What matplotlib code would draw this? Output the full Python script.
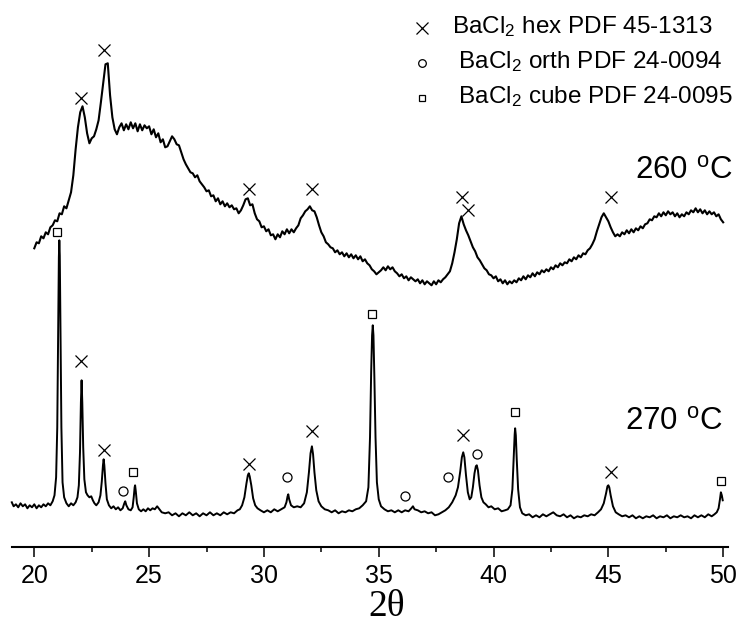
import numpy as np
import matplotlib
matplotlib.use("Agg")
import matplotlib.pyplot as plt
from matplotlib.ticker import MultipleLocator

plt.rcParams['font.family'] = ['Liberation Sans', 'DejaVu Sans']
plt.rcParams['mathtext.fontset'] = 'custom'
plt.rcParams['mathtext.rm'] = 'Liberation Sans'
plt.rcParams['mathtext.it'] = 'Liberation Sans:italic'
plt.rcParams['mathtext.default'] = 'regular'

# ---------------- data ----------------
# 260 C pattern: scan grid 20.0 .. 50.0, step 0.1 (intensity, a.u., offset upward)
scan_start_260, scan_step_260 = 20.0, 0.1
intensity_260 = [
    299, 305, 304, 311, 309, 315, 313, 320, 322, 327,   # 20.0-20.9
    326, 334, 333, 341, 339, 347, 355, 372, 398, 420,   # 21.0-21.9
    435, 441, 430, 414, 404, 409, 411, 418, 427, 445,   # 22.0-22.9
    464, 483, 484, 452, 430, 418, 413, 420, 424, 417,   # 23.0-23.9
    423, 418, 425, 419, 424, 416, 423, 417, 422, 419,   # 24.0-24.9
    421, 413, 418, 410, 414, 405, 408, 400, 401, 406,   # 25.0-25.9
    411, 408, 403, 402, 395, 388, 383, 379, 375, 374,   # 26.0-26.9
    370, 372, 366, 363, 360, 356, 357, 351, 352, 346,   # 27.0-27.9
    349, 343, 346, 341, 344, 340, 342, 338, 339, 334,   # 28.0-28.9
    337, 342, 348, 349, 342, 343, 334, 328, 326, 320,   # 29.0-29.9
    321, 316, 318, 312, 313, 308, 313, 310, 316, 313,   # 30.0-30.9
    318, 314, 318, 315, 319, 322, 329, 332, 336, 338,   # 31.0-31.9
    341, 337, 336, 330, 322, 315, 311, 305, 303, 300,   # 32.0-32.9
    299, 295, 297, 293, 295, 291, 294, 290, 293, 289,   # 33.0-33.9
    292, 288, 291, 286, 288, 284, 282, 278, 276, 273,   # 34.0-34.9
    275, 277, 280, 277, 281, 278, 280, 276, 274, 271,   # 35.0-35.9
    273, 269, 271, 267, 270, 268, 266, 268, 264, 267,   # 36.0-36.9
    263, 266, 264, 262, 266, 263, 267, 265, 268, 270,   # 37.0-37.9
    273, 276, 284, 295, 308, 324, 331, 323, 317, 312,   # 38.0-38.9
    306, 300, 296, 290, 287, 283, 279, 277, 273, 272,   # 39.0-39.9
    269, 271, 266, 268, 264, 267, 263, 266, 264, 267,   # 40.0-40.9
    265, 269, 267, 271, 268, 272, 270, 274, 271, 275,   # 41.0-41.9
    273, 277, 275, 278, 276, 280, 278, 282, 280, 284,   # 42.0-42.9
    282, 285, 284, 288, 286, 290, 288, 292, 290, 294,   # 43.0-43.9
    293, 297, 299, 303, 308, 316, 323, 330, 334, 330,   # 44.0-44.9
    326, 320, 315, 311, 313, 311, 315, 313, 317, 314,   # 45.0-45.9
    318, 315, 319, 317, 321, 319, 323, 324, 328, 327,   # 46.0-46.9
    331, 330, 334, 331, 335, 332, 336, 333, 335, 331,   # 47.0-47.9
    334, 330, 333, 331, 335, 333, 337, 335, 339, 335,   # 48.0-48.9
    338, 334, 337, 333, 336, 333, 335, 331, 333, 328,   # 49.0-49.9
    325,                                                # 50.0
]
theta_260 = scan_start_260 + scan_step_260 * np.arange(len(intensity_260))

# 270 C pattern
theta_270 = [
    19.02, 19.1, 19.2, 19.3, 19.4, 19.5, 19.6, 19.7, 19.8, 19.9, 20.0, 20.1, 20.2, 20.3,
    20.4, 20.5, 20.6, 20.7, 20.8, 20.88, 20.95, 21.0, 21.04, 21.07, 21.09, 21.11, 21.14,
    21.18, 21.23, 21.3, 21.4, 21.5, 21.6, 21.7, 21.8, 21.88, 21.94, 21.99, 22.03, 22.06,
    22.09, 22.13, 22.18, 22.25, 22.32, 22.4, 22.48, 22.55, 22.62, 22.7, 22.8, 22.88, 22.94,
    22.99, 23.02, 23.05, 23.1, 23.16, 23.25, 23.35, 23.45, 23.55, 23.65, 23.75, 23.85,
    23.92, 23.96, 24.01, 24.1, 24.2, 24.28, 24.33, 24.37, 24.39, 24.42, 24.47, 24.55,
    24.65, 24.75, 24.85, 24.95, 25.05, 25.15, 25.25, 25.35, 25.45, 25.55, 25.7, 25.85,
    26.0, 26.15, 26.3, 26.45, 26.6, 26.75, 26.9, 27.05, 27.2, 27.35, 27.5, 27.65, 27.8,
    27.95, 28.1, 28.25, 28.4, 28.55, 28.7, 28.85, 28.95, 29.05, 29.15, 29.24, 29.3, 29.34,
    29.38, 29.45, 29.53, 29.62, 29.72, 29.85, 30.0, 30.15, 30.3, 30.45, 30.6, 30.75, 30.9,
    30.98, 31.03, 31.06, 31.1, 31.18, 31.3, 31.45, 31.6, 31.75, 31.87, 31.96, 32.03, 32.09,
    32.14, 32.2, 32.28, 32.38, 32.5, 32.65, 32.8, 32.95, 33.1, 33.25, 33.4, 33.55, 33.7,
    33.85, 34.0, 34.15, 34.3, 34.45, 34.55, 34.62, 34.67, 34.71, 34.74, 34.77, 34.81,
    34.86, 34.92, 35.0, 35.1, 35.25, 35.4, 35.55, 35.7, 35.85, 36.0, 36.15, 36.3, 36.42,
    36.49, 36.56, 36.7, 36.85, 37.0, 37.15, 37.3, 37.45, 37.6, 37.75, 37.9, 38.05, 38.2,
    38.35, 38.45, 38.55, 38.62, 38.68, 38.73, 38.8, 38.88, 38.96, 39.03, 39.1, 39.17,
    39.23, 39.27, 39.32, 39.39, 39.47, 39.56, 39.66, 39.78, 39.9, 40.05, 40.2, 40.35, 40.5,
    40.62, 40.74, 40.82, 40.88, 40.92, 40.94, 40.97, 41.01, 41.07, 41.15, 41.25, 41.4,
    41.55, 41.7, 41.85, 42.0, 42.15, 42.3, 42.45, 42.6, 42.75, 42.9, 43.05, 43.2, 43.35,
    43.5, 43.65, 43.8, 43.95, 44.1, 44.25, 44.4, 44.55, 44.68, 44.8, 44.9, 44.96, 45.0,
    45.04, 45.1, 45.2, 45.32, 45.45, 45.6, 45.75, 45.9, 46.05, 46.2, 46.35, 46.5, 46.65,
    46.8, 46.95, 47.1, 47.25, 47.4, 47.55, 47.7, 47.85, 48.0, 48.15, 48.3, 48.45, 48.6,
    48.75, 48.9, 49.05, 49.2, 49.35, 49.5, 49.62, 49.72, 49.8, 49.86, 49.9, 49.94, 49.98,
]
intensity_270 = [
    45, 41, 43, 40, 44, 41, 43, 39, 42, 40, 43, 39, 42, 40,
    43, 41, 44, 42, 46, 52, 70, 120, 220, 290, 307, 292, 220,
    120, 65, 50, 44, 41, 44, 42, 45, 50, 62, 95, 145, 167,
    145, 100, 68, 55, 52, 50, 51, 47, 44, 42, 45, 52, 66,
    82, 88, 82, 64, 48, 42, 39, 41, 38, 40, 37, 39,
    44, 46, 42, 38, 37, 40, 50, 60, 62, 56, 44, 38,
    36, 38, 36, 39, 37, 39, 38, 41, 38, 35, 34, 35,
    32, 34, 31, 34, 32, 35, 32, 34, 31, 34, 32, 35, 32,
    34, 32, 35, 33, 35, 34, 37, 38, 42, 50, 64, 72, 74,
    71, 62, 49, 42, 39, 37, 35, 37, 35, 38, 36, 38, 40,
    45, 51, 53, 48, 42, 40, 41, 40, 44, 55, 75, 94, 101,
    93, 75, 57, 46, 41, 38, 37, 35, 37, 34, 36, 35, 37,
    36, 38, 39, 42, 46, 60, 110, 175, 212, 222, 212, 170,
    110, 65, 48, 41, 38, 36, 37, 35, 37, 35, 37, 36, 39,
    41, 38, 37, 35, 36, 34, 35, 32, 33, 35, 37, 40, 45,
    52, 60, 76, 90, 95, 90, 72, 55, 48, 50, 60, 74,
    81, 82, 77, 62, 50, 45, 43, 40, 41, 38, 39, 36, 37,
    38, 42, 58, 90, 113, 119, 112, 88, 58, 40, 34, 32,
    33, 30, 32, 30, 33, 31, 33, 35, 32, 31, 33, 30, 32,
    29, 31, 30, 32, 31, 33, 32, 35, 38, 44, 54, 61, 62,
    60, 52, 41, 35, 33, 31, 32, 30, 32, 29, 31, 29, 31,
    30, 32, 29, 31, 30, 32, 29, 31, 30, 32, 30, 31, 29,
    32, 30, 32, 30, 33, 31, 33, 35, 39, 48, 55, 52, 47,
]

# Phase markers (2theta, intensity position)
hex_260_x = [22.02, 23.04, 29.36, 32.08, 38.61, 38.90, 45.10]
hex_260_y = [449, 497, 358, 358, 350, 337, 350]
hex_270_x = [22.02, 23.04, 29.36, 32.09, 38.66, 45.13]
hex_270_y = [186, 97, 83, 116, 112, 75]
orth_270_x = [23.85, 30.99, 36.15, 38.00, 39.27]
orth_270_y = [56, 70, 51, 70, 93]
cube_270_x = [21.00, 24.31, 34.69, 40.94, 49.90]
cube_270_y = [315, 75, 233, 135, 66]

legend_labels = ['BaCl$_2$ hex PDF 45-1313',
                 ' BaCl$_2$ orth PDF 24-0094',
                 ' BaCl$_2$ cube PDF 24-0095']
temp_labels = ['260 $^{o}$C', '270 $^{o}$C']
xticks = [20, 25, 30, 35, 40, 45, 50]

# ---------------- figure ----------------
W, H = 755, 625
fig = plt.figure(figsize=(W / 100, H / 100), dpi=100)
ax = fig.add_axes([11.7 / W, (H - 547.3) / H, (728 - 11.7) / W, 547.3 / H])
ax.set_xlim(19.016, 50.21)
ax.set_ylim(0, 547.3)

ax.plot(theta_260, intensity_260, color='black', lw=1.5, clip_on=False)
ax.plot(theta_270, intensity_270, color='black', lw=1.4, clip_on=False)

mk = dict(linestyle='none', color='black', clip_on=False)
ax.plot(hex_260_x, hex_260_y, marker='x', ms=8.5, mew=0.9, **mk)
ax.plot(hex_270_x, hex_270_y, marker='x', ms=8.5, mew=0.9, **mk)
ax.plot(orth_270_x, orth_270_y, marker='o', ms=6.5, mew=0.9, mfc='none', **mk)
ax.plot(cube_270_x, cube_270_y, marker='s', ms=5.8, mew=0.9, mfc='none', **mk)

for side in ('left', 'right', 'top'):
    ax.spines[side].set_visible(False)
ax.spines['bottom'].set_linewidth(1.5)
ax.set_yticks([])
ax.set_xticks(xticks)
ax.set_xticklabels([str(t) for t in xticks])
ax.xaxis.set_minor_locator(MultipleLocator(2.5))
ax.tick_params(axis='x', which='major', direction='out', length=7.2, width=1.1,
               labelsize=18, pad=5)
ax.tick_params(axis='x', which='minor', direction='out', length=3.6, width=1.1)

fig.text(386.5 / W, 1.0 / H, '2\u03b8', family=['Liberation Serif', 'DejaVu Serif'],
         fontsize=27, ha='center', va='bottom')

# temperature labels
fig.text(635 / W, 1 - 179.3 / H, temp_labels[0], fontsize=22.5, ha='left', va='baseline')
fig.text(625 / W, 1 - 430 / H, temp_labels[1], fontsize=22.5, ha='left', va='baseline')

# legend (manual)
leg_marker_y = [28.3, 63.3, 98.3]
leg_text_x = [451.7, 451.7, 451.7]
leg_text_base = [33.3, 68.0, 103.0]
leg_markers = [('x', 8, 'black'), ('o', 5.5, 'none'), ('s', 5, 'none')]
for i, (m, s, fc) in enumerate(leg_markers):
    fig.add_artist(plt.Line2D([421.7 / W], [1 - leg_marker_y[i] / H], marker=m, ms=s,
                              mew=0.9, mfc=fc, mec='black', color='black',
                              linestyle='none', transform=fig.transFigure))
    fig.text(leg_text_x[i] / W, 1 - leg_text_base[i] / H, legend_labels[i],
             fontsize=17.5, ha='left', va='baseline')

fig.savefig('out.png', dpi=100)
